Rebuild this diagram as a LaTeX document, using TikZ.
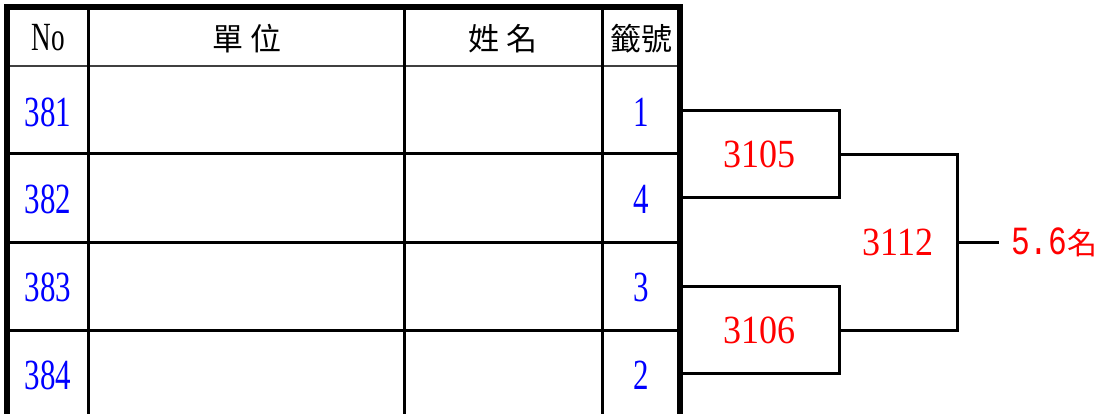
\documentclass[tikz,border=0pt]{standalone}
\usepackage{fontspec}
\setmainfont{Liberation Serif}
\newfontfamily\cjk{Noto Sans CJK TC}
\newfontfamily\mono{Liberation Mono}
\usetikzlibrary{positioning}
\tikzstyle{rule}  =[line width=3pt]
\tikzstyle{frame} =[line width=6pt]
\tikzstyle{wire}  =[line width=3pt, line cap=rect]
\tikzstyle{head}  =[inner sep=0pt, font=\cjk\fontsize{31}{31}\selectfont]
\tikzstyle{entry} =[inner sep=0pt, text=blue, font=\fontsize{43}{43}\selectfont]
\tikzstyle{match} =[draw, line width=3pt, minimum width=159pt, minimum height=87pt,
                    inner sep=0pt, text=red, font=\fontsize{40}{40}\selectfont]
\newcommand{\nar}[2][0.72]{\scalebox{#1}[1]{#2}}

\begin{document}
\begin{tikzpicture}[x=1pt, y=-1pt]
    \useasboundingbox (0,0) rectangle (1100,414);
    % table
    \foreach \y in {154,242,330} \draw[rule] (7,\y) -- (680,\y);
    \draw[line width=2.5pt, black!75] (7,66) -- (680,66);
    \foreach \x in {88,404,602} \draw[rule] (\x,7) -- (\x,416);
    \draw[frame] (7,416) -- (7,7) -- (680,7) -- (680,416);
    \node[head, font=\fontsize{40}{40}\selectfont] (hno) at (48,38) {\nar[0.68]{No}};
    \node[head] (hunit) at (247,39) {單\hspace{7pt}位};
    \node[head] (hname) at (503,39) {姓\hspace{7pt}名};
    \node[head] (hlot)  at (641,39) {籤號};
    \foreach \y/\no/\lot in {112/381/1,199/382/4,287/383/3,375/384/2}{
        \node[entry] (no\no) at (48,\y) {\nar{\no}};
        \node[entry] (lot\lot) at (641,\y) {\nar{\lot}};
    }
    % bracket
    \node[match] (m3105) at (759.5,154.5) {\nar[0.9]{3105}};
    \node[match] (m3106) at (759.5,330) {\nar[0.9]{3106}};
    \draw[frame] (680,100) -- (680,390);
    \coordinate (knot) at (957,242);
    \draw[wire] (m3105.east) -| (knot) |- (m3106.east);
    \node[inner sep=0pt, text=red, font=\fontsize{40}{40}\selectfont] (m3112) at (898,242) {\nar[0.9]{3112}};
    \node[inner sep=0pt, text=red, anchor=west] (place) at (1011,242)
        {\mono\fontsize{40}{40}\selectfont\nar[0.78]{5.6}\cjk\fontsize{30}{30}\selectfont 名};
    \draw[wire] (knot) -- ([xshift=-14pt]place.west);
\end{tikzpicture}
\end{document}
